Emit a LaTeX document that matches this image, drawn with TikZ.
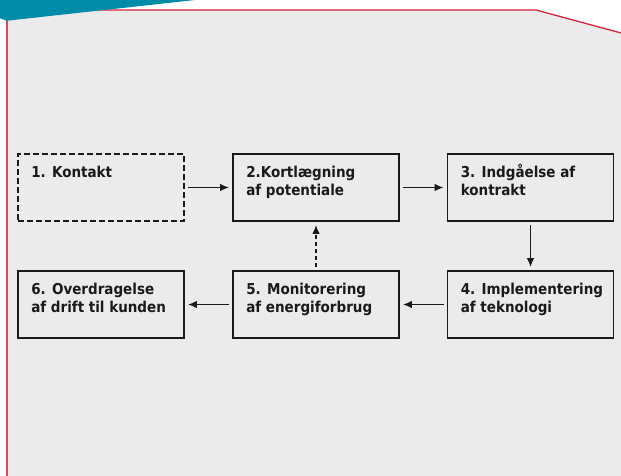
\documentclass[tikz,border=0pt]{standalone}
\usepackage{fontspec}
\setmainfont{DejaVu Sans Condensed}[BoldFont={DejaVu Sans Condensed Bold}]
\usetikzlibrary{arrows.meta,calc}
\definecolor{bggrey}{RGB}{235,235,235}
\definecolor{framered}{RGB}{214,36,58}
\definecolor{leftred}{RGB}{222,72,92}
\definecolor{tealband}{RGB}{0,139,168}
\definecolor{ink}{RGB}{26,26,26}
\tikzset{
  stepbox/.style={draw=ink, line width=1.8pt, minimum width=166pt, minimum height=67pt, inner sep=0pt},
  dashbox/.style={stepbox, dash pattern=on 6pt off 3pt},
  steptext/.style={anchor=base west, inner sep=0pt, text=ink, font=\fontsize{15}{18.5}\selectfont\bfseries},
  flow/.style={draw=ink, line width=1.5pt, -{Latex[length=9pt,width=7.5pt]}, shorten <=3pt, shorten >=3pt},
  dashflow/.style={flow, dash pattern=on 4pt off 3pt}
}
\newcommand{\twolines}[2]{\begin{tabular}[t]{@{}l@{}}#1\\#2\end{tabular}}
\begin{document}
\begin{tikzpicture}[x=1pt,y=-1pt]
\useasboundingbox (0,0) rectangle (621,476);
% background panel
\fill[bggrey] (7,10) -- (536,10) -- (621,33) -- (621,476) -- (7,476) -- cycle;
\draw[framered, line width=1.3pt] (7,10) -- (536,10) -- (621,33);
\draw[leftred, line width=1.8pt] (7,476) -- (7,10);
\fill[tealband] (0,0) -- (195,0) -- (7,20.7) -- (0,18.3) -- cycle;
% boxes
\node[dashbox] (b1) at (101,187.5) {};
\node[stepbox] (b2) at (316,187.5) {};
\node[stepbox] (b3) at (530.5,187.5) {};
\node[stepbox] (b4) at (530.5,304.5) {};
\node[stepbox] (b5) at (316,304.5) {};
\node[stepbox] (b6) at (101,304.5) {};
% texts
\node[steptext] (t1) at ($(b1.north west)+(14,24)$) {1. Kontakt};
\node[steptext] (t2) at ($(b2.north west)+(14,24)$) {\twolines{2.Kortlægning}{af potentiale}};
\node[steptext] (t3) at ($(b3.north west)+(14,24)$) {\twolines{3. Indgåelse af}{kontrakt}};
\node[steptext] (t4) at ($(b4.north west)+(14,24)$) {\twolines{4. Implementering}{af teknologi}};
\node[steptext] (t5) at ($(b5.north west)+(14,24)$) {\twolines{5. Monitorering}{af energiforbrug}};
\node[steptext] (t6) at ($(b6.north west)+(14,24)$) {\twolines{6. Overdragelse}{af drift til kunden}};
% connectors
\draw[flow] (b1) -- (b2);
\draw[flow] (b2) -- (b3);
\draw[flow] (b3) -- (b4);
\draw[flow] (b4) -- (b5);
\draw[flow] (b5) -- (b6);
\draw[dashflow] (b5) -- (b2);
\end{tikzpicture}
\end{document}
